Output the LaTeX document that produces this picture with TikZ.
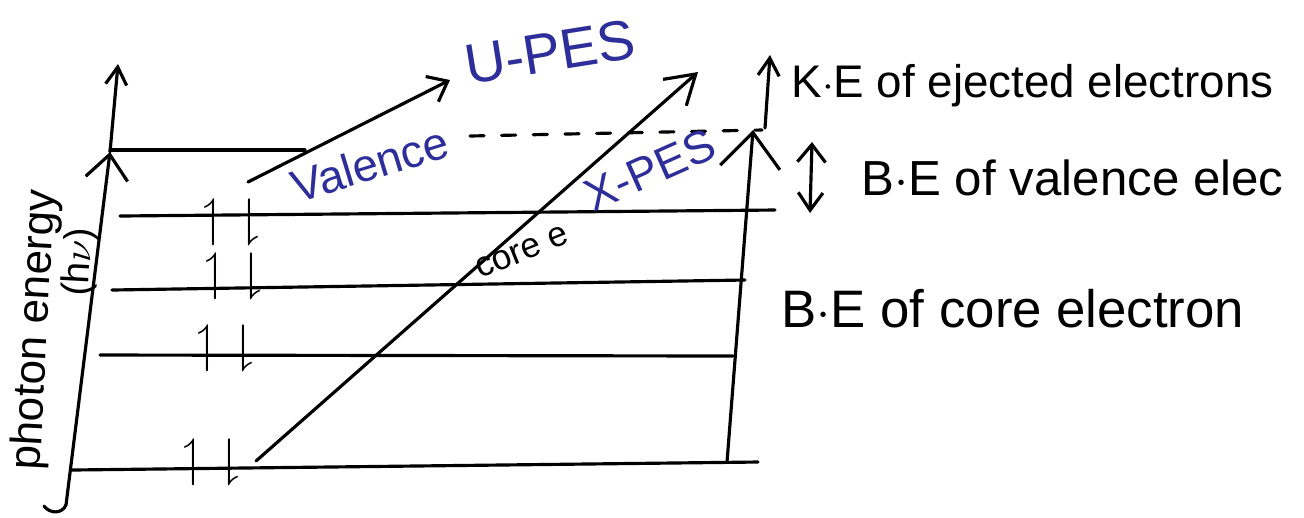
\documentclass[tikz,border=0pt]{standalone}
\usepackage{fontspec}
\setmainfont{Liberation Sans}
\usepackage{amssymb}
\usetikzlibrary{arrows.meta}
\definecolor{ink}{HTML}{2E2E9A}

\begin{document}
\begin{tikzpicture}[x=0.01cm, y=-0.01cm, line width=0.9pt, line cap=round]
\useasboundingbox (0,0) rectangle (1304,517);
% Styles
\tikzset{
  sidetext/.style={font=\fontsize{13}{13}\selectfont, anchor=base west, inner sep=0pt},
  inktext/.style={text=ink, inner sep=0pt},
  epair/.style={font=\fontsize{15}{15}\selectfont, inner sep=0pt},
}
% Photon energy axis
\coordinate (ax0) at (66,505);
\coordinate (ax1) at (110,152);
\coordinate (ax2) at (118,64);
\draw[-{Straight Barb[length=7pt, width=12pt]}] (ax0) -- (ax1);
\draw[-{Straight Barb[length=5pt, width=6pt]}] (ax1) -- (ax2);
\draw (ax0) .. controls (62,514) and (50,514) .. (44,506);
% Energy levels
\foreach \name/\xa/\ya/\xb/\yb in {
    top/110/150/305/150, lv1/120/216/775/210, lv2/112/290/745/280,
    lv3/100/355/733/356, lv4/72/470/758/462}{
  \draw (\xa,\ya) coordinate (\name-a) -- (\xb,\yb) coordinate (\name-b);
}
% Valence ionisation level (dashed)
\coordinate (dl-a) at (470,136);
\coordinate (dl-b) at (762,130);
\draw[dash pattern=on 4pt off 5pt] (dl-a) -- (dl-b);
% Electron pairs
\foreach \n/\x/\y in {1/232/222, 2/234/276, 3/226/348, 4/212/462}{
  \node[epair] (e\n) at (\x,\y) {$\upharpoonleft\;\downharpoonright$};
}
% Photoelectron arrows
\coordinate (up0) at (248,182);
\coordinate (up1) at (450,80);
\draw[-{Straight Barb[length=5pt, width=8pt]}] (up0) -- (up1);
\coordinate (xp0) at (256,461);
\coordinate (xp1) at (698,72);
\draw[-{Straight Barb[length=8pt, width=10pt]}] (xp0) -- (xp1);
% Right energy scale
\coordinate (hv0) at (727,462);
\coordinate (hv1) at (753,130);
\draw[-{Straight Barb[length=10pt, width=17pt]}] (hv0) -- (hv1);
\coordinate (ke0) at (765,128);
\coordinate (ke1) at (770,55);
\draw[-{Straight Barb[length=5pt, width=6pt]}] (ke0) -- (ke1);
\coordinate (bv0) at (810,213);
\coordinate (bv1) at (812,142);
\draw[{Straight Barb[length=5pt, width=7pt]}-{Straight Barb[length=5pt, width=8pt]}] (bv0) -- (bv1);
% Labels
\node[inktext, font=\fontsize{16}{16}\selectfont, rotate=9] (upes) at (550,52) {U-PES};
\node[inktext, font=\fontsize{13}{13}\selectfont, rotate=17] (valence) at (370,164) {Valence};
\node[inktext, font=\fontsize{13}{13}\selectfont, rotate=24] (xpes) at (650,170) {X-PES};
\node[inner sep=0pt, font=\fontsize{10}{10}\selectfont, rotate=22] (coree) at (522,252) {core e};
\node[sidetext] (ke) at (790,97) {K$\cdot$E of ejected electrons};
\node[sidetext, font=\fontsize{14}{14}\selectfont] (bev) at (860,195) {B$\cdot$E of valence elec};
\node[sidetext, font=\fontsize{15}{15}\selectfont] (bec) at (780,327) {B$\cdot$E of core electron};
\node[inner sep=0pt, font=\fontsize{12.5}{12.5}\selectfont, rotate=87] (photon) at (36,330) {photon energy};
\node[inner sep=0pt, font=\fontsize{11}{11}\selectfont, rotate=87] (hnu) at (80,262) {(h$\nu$)};
\end{tikzpicture}
\end{document}
